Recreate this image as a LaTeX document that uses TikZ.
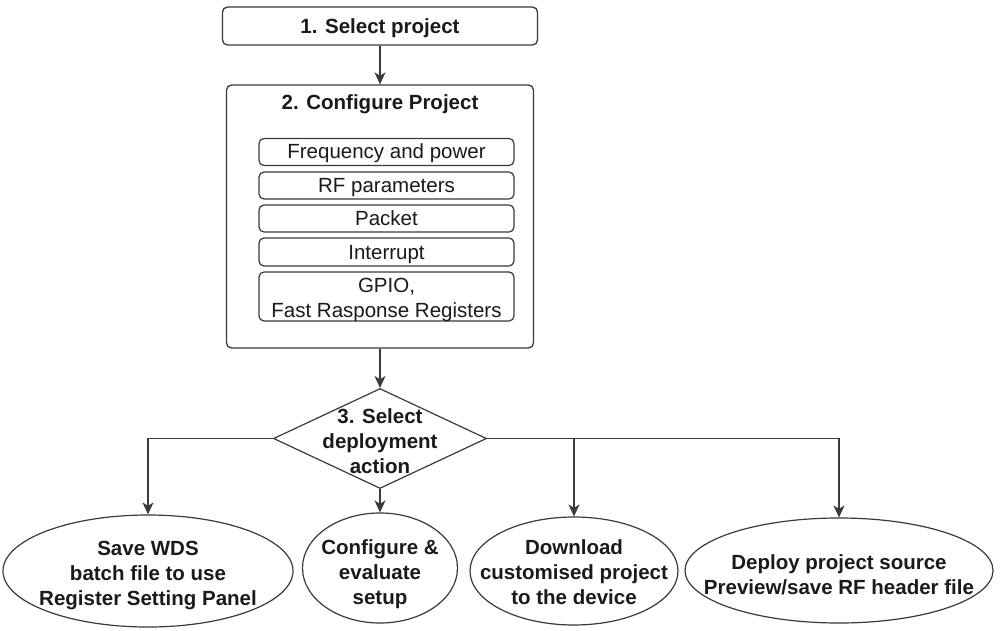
\documentclass[tikz,border=0pt]{standalone}
\usepackage{fontspec}
\setmainfont{Liberation Sans}
\usetikzlibrary{shapes.geometric,arrows.meta}
\definecolor{ln}{HTML}{3A3A3A}
\definecolor{tx}{HTML}{1A1A1A}
\begin{document}
\begin{tikzpicture}[x=1pt,y=-1pt,
  every node/.style={text=tx},
  mainbox/.style={draw=ln,line width=1.3pt,rounded corners=5pt,inner sep=0pt},
  subframe/.style={draw=ln,line width=1.2pt,rounded corners=5pt,inner sep=0pt,minimum width=255pt},
  subbox/.style={subframe,font=\fontsize{20.5}{25}\selectfont,align=center,text height=17pt,text depth=3pt},
  sublbl/.style={font=\fontsize{20.5}{25}\selectfont,align=center,inner sep=0pt},
  oval/.style={draw=ln,line width=1.2pt,ellipse,inner sep=0pt},
  lbl/.style={font=\bfseries\fontsize{20.5}{25}\selectfont,align=center,inner sep=0pt},
  conn/.style={draw=ln,line width=1.3pt},
  arr/.style={conn,-{Stealth[length=12pt,width=11pt,inset=3.5pt]}}]
\useasboundingbox (0,0) rectangle (1000,631);
\fill[white] (0,0) rectangle (1000,631);
% box 1
\node[mainbox,minimum width=315pt,minimum height=38pt] (b1) at (380,26) {};
\node[lbl] (b1t) at (380,28) {1. Select project};
% box 2
\node[mainbox,minimum width=307pt,minimum height=263pt] (b2) at (380,216.5) {};
\node[lbl] (b2t) at (380,104) {2. Configure Project};
\node[subbox,minimum height=27pt] (s1) at (386.5,152) {Frequency and power};
\node[subbox,minimum height=27pt] (s2) at (386.5,185.5) {RF parameters};
\node[subbox,minimum height=27pt] (s3) at (386.5,218.5) {Packet};
\node[subbox,minimum height=28pt] (s4) at (386.5,252) {Interrupt};
\node[subframe,minimum height=49pt] (s5) at (386.5,296.5) {};
\node[sublbl] (s5t) at (386.5,299.5) {GPIO,\\Fast Rasponse Registers};
% diamond
\node[diamond,draw=ln,line width=1.2pt,inner sep=0pt,aspect=2.13,minimum width=213pt,minimum height=100pt] (d) at (380,438.5) {};
\node[lbl] (dt) at (380,441) {3. Select\\deployment\\action};
% ellipses
\node[oval,minimum width=290pt,minimum height=112pt] (e1) at (148,571) {};
\node[lbl] (e1t) at (148,576) {Save WDS\\batch file to use\\Register Setting Panel};
\node[oval,minimum width=155pt,minimum height=110pt] (e2) at (380,568) {};
\node[lbl] (e2t) at (380,574.5) {Configure \&\\evaluate\\setup};
\node[oval,minimum width=208pt,minimum height=108pt] (e3) at (574,571) {};
\node[lbl] (e3t) at (574,572.5) {Download\\customised project\\to the device};
\node[oval,minimum width=308pt,minimum height=105pt] (e4) at (839,570.5) {};
\node[lbl] (e4t) at (839,574.5) {Deploy project source\\Preview/save RF header file};
% connectors
\draw[arr] (b1.south) -- (b2.north);
\draw[arr] (b2.south) -- (d.north);
\draw[arr] (d.west) -| (e1.north);
\draw[arr] (d.south) -- (e2.north);
\draw[arr] (d.east) -| (e3.north);
\draw[arr] (d.east) -| (e4.north);
\end{tikzpicture}
\end{document}
